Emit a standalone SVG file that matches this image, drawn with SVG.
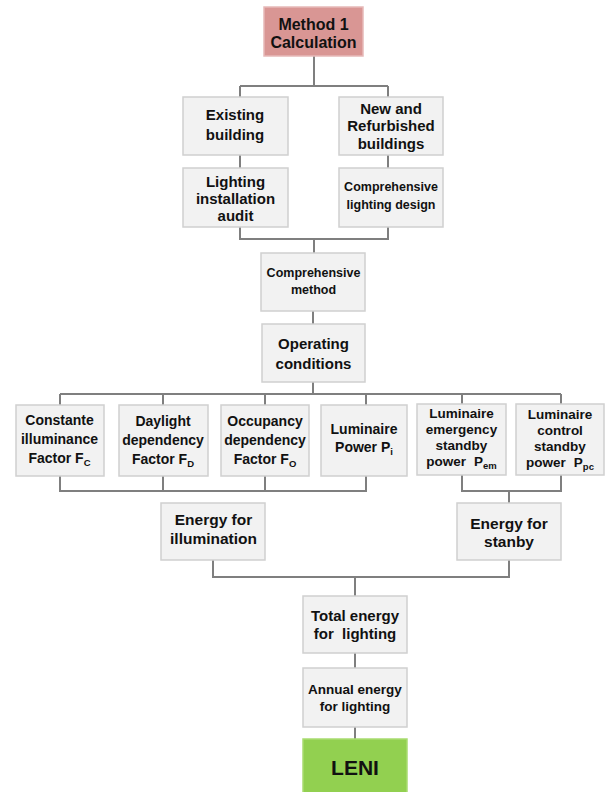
<svg xmlns="http://www.w3.org/2000/svg" width="605" height="792" viewBox="0 0 605 792">
<style>
.box{fill:#f2f2f2;stroke:#cfcfcf;stroke-width:1.5}
.red{fill:#d99694;stroke:#e6b9b8;stroke-width:1.5}
.green{fill:#92d050;stroke:#a9dc70;stroke-width:1.5}
text{font-family:"Liberation Sans",Arial,sans-serif;font-weight:bold;fill:#111;text-anchor:middle}
.sub{font-size:9.5px}
#connectors path{fill:none;stroke:#7f7f7f;stroke-width:2}
</style>
<rect width="605" height="792" fill="#ffffff"/>
<g id="connectors">
<path d="M314 56V86M240 86H388M240 86V97M388 86V97"/>
<path d="M240 155V168M388 155V168"/>
<path d="M240 227V239H388V227M314 239V253"/>
<path d="M313 311V324"/>
<path d="M313 382V394M60 394H561M60 394V405M163 394V405M265 394V405M366 394V405M462 394V404M561 394V404"/>
<path d="M60 476V491H366V476M163 476V491M265 476V491"/>
<path d="M462 475V491H561V475M509 491V503"/>
<path d="M213 560V577H509V560M355 577V596"/>
<path d="M355 653V668M355 727V739"/>
</g>
<g id="method1">
<rect class="red" x="264" y="7" width="99" height="49"/>
<text x="313.5" y="29.5" font-size="16">Method 1</text>
<text x="313.5" y="47.5" font-size="16">Calculation</text>
</g>
<g id="existing">
<rect class="box" x="183" y="97" width="105" height="58"/>
<text x="235" y="119.5" font-size="15">Existing</text>
<text x="235" y="139.5" font-size="15">building</text>
</g>
<g id="new">
<rect class="box" x="339" y="97" width="104" height="58"/>
<text x="391" y="113.5" font-size="15">New and</text>
<text x="391" y="131" font-size="15">Refurbished</text>
<text x="391" y="148.5" font-size="15">buildings</text>
</g>
<g id="audit">
<rect class="box" x="183" y="168" width="105" height="59"/>
<text x="235.5" y="186.5" font-size="15">Lighting</text>
<text x="235.5" y="204" font-size="15">installation</text>
<text x="235.5" y="221" font-size="15">audit</text>
</g>
<g id="design">
<rect class="box" x="339" y="168" width="104" height="59"/>
<text x="391" y="191" font-size="12.5">Comprehensive</text>
<text x="391" y="208.5" font-size="12.5">lighting design</text>
</g>
<g id="compmethod">
<rect class="box" x="261" y="253" width="104" height="58"/>
<text x="313.5" y="276.5" font-size="12.5">Comprehensive</text>
<text x="313.5" y="294" font-size="12.5">method</text>
</g>
<g id="operating">
<rect class="box" x="262" y="324" width="103" height="58"/>
<text x="313.5" y="348.5" font-size="15">Operating</text>
<text x="313.5" y="368.5" font-size="15">conditions</text>
</g>
<g id="fc">
<rect class="box" x="16" y="405" width="88" height="71"/>
<text x="59.5" y="424.5" font-size="14">Constante</text>
<text x="59.5" y="443.5" font-size="14">illuminance</text>
<text x="59.5" y="462.5" font-size="14">Factor F<tspan class="sub" dy="3">C</tspan></text>
</g>
<g id="fd">
<rect class="box" x="119" y="405" width="89" height="71"/>
<text x="163" y="425.5" font-size="14">Daylight</text>
<text x="163" y="444.5" font-size="14">dependency</text>
<text x="163" y="463.5" font-size="14">Factor F<tspan class="sub" dy="3">D</tspan></text>
</g>
<g id="fo">
<rect class="box" x="221" y="405" width="88" height="71"/>
<text x="265" y="425.5" font-size="14">Occupancy</text>
<text x="265" y="444.5" font-size="14">dependency</text>
<text x="265" y="463.5" font-size="14">Factor F<tspan class="sub" dy="3">O</tspan></text>
</g>
<g id="pi">
<rect class="box" x="321" y="405" width="86" height="71"/>
<text x="364" y="433.5" font-size="14">Luminaire</text>
<text x="364" y="452" font-size="14">Power P<tspan class="sub" dy="3">i</tspan></text>
</g>
<g id="pem">
<rect class="box" x="417" y="404" width="89" height="71"/>
<text x="461.5" y="418" font-size="13.5">Luminaire</text>
<text x="461.5" y="434" font-size="13.5">emergency</text>
<text x="461.5" y="450" font-size="13.5">standby</text>
<text x="461.5" y="466" font-size="13.5">power<tspan dx="8">P</tspan><tspan class="sub" dy="3">em</tspan></text>
</g>
<g id="ppc">
<rect class="box" x="516" y="404" width="88" height="71"/>
<text x="560" y="419" font-size="13.5">Luminaire</text>
<text x="560" y="435" font-size="13.5">control</text>
<text x="560" y="451" font-size="13.5">standby</text>
<text x="560" y="467" font-size="13.5">power<tspan dx="8">P</tspan><tspan class="sub" dy="3">pc</tspan></text>
</g>
<g id="illum">
<rect class="box" x="161" y="503" width="104" height="57"/>
<text x="213.5" y="525" font-size="15.5">Energy for</text>
<text x="213.5" y="544" font-size="15.5">illumination</text>
</g>
<g id="standby">
<rect class="box" x="457" y="503" width="104" height="57"/>
<text x="509" y="528.5" font-size="15.5">Energy for</text>
<text x="509" y="547" font-size="15.5">stanby</text>
</g>
<g id="total">
<rect class="box" x="303" y="596" width="104" height="57"/>
<text x="355" y="621" font-size="15">Total energy</text>
<text x="355" y="639" font-size="15" xml:space="preserve">for  lighting</text>
</g>
<g id="annual">
<rect class="box" x="303" y="668" width="104" height="59"/>
<text x="355" y="693.5" font-size="13.5">Annual energy</text>
<text x="355" y="711" font-size="13.5">for lighting</text>
</g>
<g id="leni">
<rect class="green" x="303" y="739" width="104" height="56"/>
<text x="355" y="775" font-size="21">LENI</text>
</g>
</svg>
